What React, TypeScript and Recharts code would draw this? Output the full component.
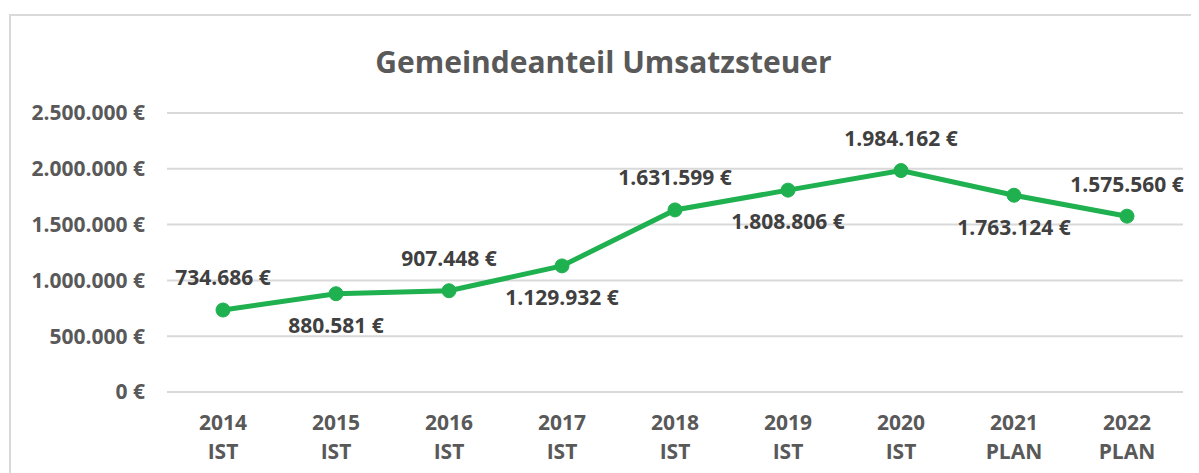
import React from "react";
import { LineChart, Line, XAxis, YAxis, CartesianGrid, LabelList } from "recharts";

const years = ["2014", "2015", "2016", "2017", "2018", "2019", "2020", "2021", "2022"];
const kinds = ["IST", "IST", "IST", "IST", "IST", "IST", "IST", "PLAN", "PLAN"];
const values = [734686, 880581, 907448, 1129932, 1631599, 1808806, 1984162, 1763124, 1575560];
const yTicks = [0, 500000, 1000000, 1500000, 2000000, 2500000];
const title = "Gemeindeanteil Umsatzsteuer";

const data = years.map((y, i) => ({ year: y, kind: kinds[i], value: values[i] }));

const FONT = "'Open Sans', sans-serif";
const fmt = (v: number) => v.toLocaleString("de-DE") + " €";

const XTick = (props: any) => {
  const { x, y, payload, index } = props;
  return (
    <text x={x} textAnchor="middle" fill="#595959" fontFamily={FONT} fontWeight={700} fontSize={21}>
      <tspan x={x} y={y + 23} dy="0.35em">{payload.value}</tspan>
      <tspan x={x} y={y + 52} dy="0.35em">{kinds[index]}</tspan>
    </text>
  );
};

const DataLabel = (props: any) => {
  const { x, y, value, index } = props;
  const above = index % 2 === 0;
  return (
    <text
      x={x}
      y={above ? y - 32 : y + 32}
      dy="0.35em"
      textAnchor="middle"
      fill="#404040"
      fontFamily={FONT}
      fontWeight={700}
      fontSize={21}
    >
      {fmt(value)}
    </text>
  );
};

export default function App() {
  return (
    <div style={{ position: "relative", width: 1191, height: 465, overflow: "hidden", background: "#fff" }}>
      <div
        style={{
          position: "absolute",
          left: 1,
          top: 6,
          width: 1400,
          height: 800,
          border: "2px solid #d9d9d9",
          boxSizing: "border-box",
        }}
      />
      <div
        style={{
          position: "absolute",
          left: 0,
          top: 33,
          width: 1191,
          textAlign: "center",
          fontFamily: FONT,
          fontWeight: 700,
          fontSize: 30,
          color: "#595959",
          lineHeight: "42px",
        }}
      >
        {title}
      </div>
      <div style={{ position: "absolute", left: 0, top: 0 }}>
        <LineChart width={1191} height={465} data={data} margin={{ top: 105, right: 16, left: 0, bottom: 0 }}>
          <CartesianGrid vertical={false} stroke="#d9d9d9" strokeWidth={2} />
          <XAxis
            dataKey="year"
            axisLine={false}
            tickLine={false}
            height={81}
            interval={0}
            padding={{ left: 56, right: 56 }}
            tick={<XTick />}
          />
          <YAxis
            width={159}
            domain={[0, 2500000]}
            ticks={yTicks}
            axisLine={false}
            tickLine={false}
            tickSize={0}
            tickMargin={22}
            tickFormatter={fmt}
            tick={{ fill: "#595959", fontFamily: FONT, fontWeight: 700, fontSize: 21 }}
          />
          <Line
            type="linear"
            dataKey="value"
            stroke="#1fb04f"
            strokeWidth={5}
            dot={{ r: 7, fill: "#1fb04f", stroke: "#1fb04f", strokeWidth: 1 }}
            isAnimationActive={false}
          >
            <LabelList dataKey="value" content={<DataLabel />} />
          </Line>
        </LineChart>
      </div>
    </div>
  );
}
